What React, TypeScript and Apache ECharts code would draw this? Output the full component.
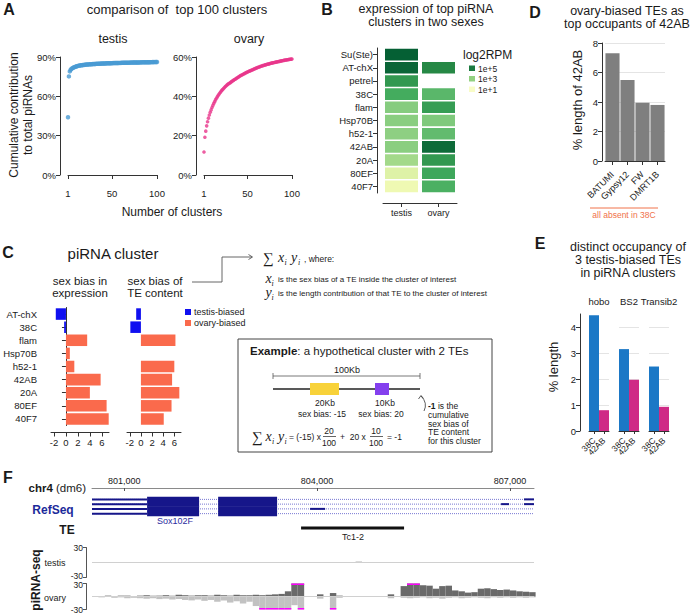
import React, { useEffect, useRef } from 'react';
import * as echarts from 'echarts';

const FONT = '"Liberation Sans", Arial, Helvetica, sans-serif';
const SERIF = '"Liberation Serif", "Times New Roman", serif';
const INK = '#1a1a1a';

// ---------- Panel A ----------
const clusterRank = Array.from({ length: 100 }, (_, i) => i + 1);
const testisCum = [
  44.0, 75.2, 79.0, 80.3, 81.0, 81.5, 81.9, 82.2, 82.5, 82.8,
  83.0, 83.2, 83.4, 83.5, 83.6, 83.7, 83.8, 83.9, 84.0, 84.1,
  84.2, 84.25, 84.3, 84.35, 84.4, 84.45, 84.5, 84.55, 84.6, 84.65,
  84.7, 84.74, 84.78, 84.82, 84.86, 84.9, 84.93, 84.96, 85.0, 85.03,
  85.06, 85.09, 85.12, 85.15, 85.18, 85.2, 85.23, 85.26, 85.28, 85.3,
  85.33, 85.35, 85.37, 85.4, 85.42, 85.44, 85.46, 85.48, 85.5, 85.52,
  85.54, 85.56, 85.58, 85.6, 85.62, 85.63, 85.65, 85.67, 85.69, 85.7,
  85.72, 85.74, 85.75, 85.77, 85.79, 85.8, 85.82, 85.83, 85.85, 85.86,
  85.88, 85.89, 85.91, 85.92, 85.94, 85.95, 85.97, 85.98, 86.0, 86.01,
  86.03, 86.04, 86.06, 86.07, 86.09, 86.1, 86.12, 86.13, 86.15, 86.16,
];
const ovaryCum = [
  11.7, 19.2, 22.3, 25.0, 27.1, 28.9, 30.5, 31.9, 33.1, 34.3,
  35.4, 36.4, 37.3, 38.2, 39.0, 39.8, 40.5, 41.2, 41.8, 42.4,
  43.0, 43.5, 44.0, 44.5, 45.0, 45.4, 45.8, 46.2, 46.5, 46.8,
  47.1, 47.5, 47.8, 48.1, 48.4, 48.7, 49.0, 49.3, 49.6, 49.9,
  50.2, 50.5, 50.7, 51.0, 51.2, 51.5, 51.7, 52.0, 52.2, 52.4,
  52.6, 52.8, 53.0, 53.2, 53.4, 53.6, 53.8, 54.0, 54.2, 54.4,
  54.6, 54.8, 54.9, 55.1, 55.3, 55.4, 55.6, 55.7, 55.9, 56.0,
  56.1, 56.3, 56.4, 56.5, 56.6, 56.8, 56.9, 57.0, 57.1, 57.2,
  57.3, 57.4, 57.5, 57.6, 57.7, 57.8, 57.9, 58.0, 58.1, 58.2,
  58.3, 58.4, 58.5, 58.55, 58.6, 58.7, 58.8, 58.85, 58.9, 59.0,
];
const rankTicks = [1, 50, 100];

// ---------- Panel B ----------
const heatClusters = ['Su(Ste)', 'AT-chX', 'petrel', '38C', 'flam', 'Hsp70B', 'h52-1', '42AB', '20A', '80EF', '40F7'];
const heatSexes = ['testis', 'ovary'];
const heatTestis = [5.3, 5.2, 4.3, 3.9, 3.0, 2.95, 2.9, 2.95, 2.6, 1.6, 1.2];
const heatOvary = [null, 4.6, null, 3.6, 4.2, 3.1, 3.5, 5.1, 4.3, 4.0, 3.8];
const heatLegend = ['1e+5', '1e+3', '1e+1'];

// ---------- Panel C ----------
const biasClusters = ['AT-chX', '38C', 'flam', 'Hsp70B', 'h52-1', '42AB', '20A', '80EF', '40F7'];
const exprBias = [-1.7, -0.3, 3.55, 0.65, 1.4, 5.8, 4.0, 6.8, 7.15];
const teBias = [-0.85, -1.9, 6.2, 0, 6.0, 5.6, 6.9, 5.5, 4.1];
const biasTicks = [-2, 0, 2, 4, 6];

// ---------- Panel D ----------
const dTEs = ['BATUMI', 'Gypsy12', 'FW', 'DMRT1B'];
const dLen = [7.3, 5.5, 3.95, 3.8];

// ---------- Panel E ----------
const eTEs = ['hobo', 'BS2', 'Transib2'];
const eClusters = ['38C', '42AB'];
const e38C = [4.45, 3.15, 2.48];
const e42AB = [0.8, 1.97, 0.93];

// ---------- Panel F ----------
const fTicks = [801000, 804000, 807000];
const fMin = 800500;
const fMax = 807375;
// [start, end, transcript row, kind] kind: 0 intron, 1 UTR, 2 CDS
const refseqParts = [
  [800500, 807375, 0, 0], [800500, 807375, 1, 0], [800500, 807375, 2, 0], [800500, 807375, 3, 0],
  [800500, 801357, 0, 1], [800500, 801357, 1, 1], [800500, 801357, 2, 1], [800500, 801357, 3, 1],
  [801357, 802166, 0, 2], [801357, 802166, 1, 2], [801357, 802166, 2, 2], [801357, 802166, 3, 2],
  [802462, 803379, 0, 2], [802462, 803379, 1, 2], [802462, 803379, 2, 2], [802462, 803379, 3, 2],
  [803892, 804126, 2, 1],
  [806863, 806987, 1, 1],
  [807220, 807375, 0, 1], [807220, 807375, 1, 1],
];
const teTc12 = [803752, 805354];
const binStart = 800500;
const binSize = 100;
const ovaryPos = [
  1, 1, 2, 1, 2, 2, 1, 2, 3, 2,
  2, 3, 2, 4, 3, 2, 3, 3, 2, 4,
  3, 2, 4, 3, 3, 4, 3, 4, 5, 6,
  12, 30, 30, 0, 0, 5, 1, 8, 2,
  0, 0, 1, 0, 1, 0, 0, 5, 0,
  24, 30, 30, 26, 25, 18, 24, 25, 14, 12, 9, 10, 18, 19, 17, 15, 16, 14, 12, 11, 10,
];
const ovaryNeg = [
  -1, -2, -1, -3, -2, -4, -3, -4, -5, -4,
  -6, -5, -7, -6, -8, -9, -7, -10, -8, -12,
  -9, -14, -11, -16, -12, -22, -30, -30, -30, -30,
  -30, -20, -30, 0, 0, -5, 0, -30, -3,
  0, 0, 0, 0, -1, 0, 0, -4, 0,
  -3, -4, -3, -2, -4, -3, -5, -3, -2, -4, -3, -2, -3, -4, -2, -3, -2, -3, -2, -3, -2,
];
const testisPos = [
  0, 0, 0, 0, 0, 0, 0, 0, 0, 0,
  0, 0, 0, 0, 0, 0, 0, 0, 0, 0,
  0, 0, 0, 0, 0, 0, 0, 0, 0, 0,
  0, 0, 0, 0, 0, 0, 0, 0, 0,
  0, 0, 1.5, 0, 0, 0, 0, 0, 0,
  0, 0, 0, 0, 0, 0, 0, 0, 0, 0, 0, 0, 0, 0, 0, 0, 0, 0, 0, 0, 0,
];
const testisNeg = testisPos.map(() => 0);

const BLUE_C = '#1010f0';
const RED_C = '#fa6a4c';
const BLUE_E = '#1b78c6';
const PINK_E = '#cf2a86';

const tx = (x: number, y: number, text: string, o: any = {}) => ({
  type: 'text',
  x,
  y,
  rotation: o.rot || 0,
  silent: true,
  style: {
    text,
    fill: o.color || INK,
    fontSize: o.size || 12,
    fontFamily: o.family || FONT,
    fontWeight: o.weight || 'normal',
    fontStyle: o.fstyle || 'normal',
    align: o.align || 'center',
    textAlign: o.align || 'center',
    verticalAlign: o.va || 'middle',
    textVerticalAlign: o.va || 'middle',
    lineHeight: o.lh,
    rich: o.rich,
  },
});
const ln = (x1: number, y1: number, x2: number, y2: number, stroke = '#444', lw = 1) => ({
  type: 'line',
  silent: true,
  shape: { x1, y1, x2, y2 },
  style: { stroke, lineWidth: lw },
});

const axisText = { color: INK, fontSize: 9.5, fontFamily: FONT };
const axLine = { show: true, lineStyle: { color: '#333', width: 1 } };
const axTick = { show: true, length: 4, lineStyle: { color: '#333' } };

function buildOption() {
  const grid = [
    { left: 68, top: 57, width: 89, height: 118 }, // 0 A testis
    { left: 204, top: 57, width: 88, height: 118 }, // 1 A ovary
    { left: 383, top: 48, width: 74, height: 145 }, // 2 B heat
    { left: 605, top: 43, width: 60, height: 118 }, // 3 D
    { left: 51, top: 307.5, width: 58, height: 118 }, // 4 C left
    { left: 127, top: 307.5, width: 54, height: 118 }, // 5 C right
    { left: 589, top: 314, width: 20, height: 117 }, // 6 E hobo
    { left: 619, top: 314, width: 20, height: 117 }, // 7 E BS2
    { left: 649, top: 314, width: 20, height: 117 }, // 8 E Transib2
    { left: 92, top: 497, width: 442, height: 19 }, // 9 F refseq
    { left: 92, top: 526, width: 442, height: 4 }, // 10 F TE
    { left: 92, top: 547.5, width: 442, height: 30 }, // 11 F testis
    { left: 92, top: 583.5, width: 442, height: 29.5 }, // 12 F ovary
  ];

  const hidden = { show: false };
  const xAxis: any[] = [];
  const yAxis: any[] = [];

  // A
  [0, 1].forEach((g) => {
    xAxis.push({
      gridIndex: g, type: 'value', min: 1, max: 100, offset: 8,
      axisLine: axLine, axisTick: { ...axTick, customValues: rankTicks },
      axisLabel: { ...axisText, customValues: rankTicks, margin: 5 }, splitLine: hidden,
    });
  });
  yAxis.push({
    gridIndex: 0, type: 'value', min: 0, max: 90, interval: 30, offset: 8,
    axisLine: axLine, axisTick: axTick, axisLabel: { ...axisText, formatter: '{value}%', margin: 4 }, splitLine: hidden,
  });
  yAxis.push({
    gridIndex: 1, type: 'value', min: 0, max: 60, interval: 20, offset: 8,
    axisLine: axLine, axisTick: axTick, axisLabel: { ...axisText, formatter: '{value}%', margin: 4 }, splitLine: hidden,
  });
  // B (axis 2)
  xAxis.push({
    gridIndex: 2, type: 'category', data: heatSexes, offset: 10,
    axisLine: axLine, axisTick: { ...axTick, alignWithLabel: true }, axisLabel: { ...axisText, fontSize: 9, margin: 5 },
  });
  yAxis.push({
    gridIndex: 2, type: 'category', data: heatClusters, inverse: true, offset: 6,
    axisLine: axLine, axisTick: { ...axTick, alignWithLabel: true }, axisLabel: { ...axisText, margin: 4 },
  });
  // D (axis 3)
  xAxis.push({
    gridIndex: 3, type: 'category', data: dTEs, offset: 8,
    axisLine: axLine, axisTick: { ...axTick, alignWithLabel: true },
    axisLabel: { ...axisText, fontSize: 9, rotate: 45, margin: 4, interval: 0 },
  });
  yAxis.push({
    gridIndex: 3, type: 'value', min: 0, max: 8, interval: 2, offset: 3,
    axisLine: axLine, axisTick: axTick, axisLabel: { ...axisText, margin: 4 },
    splitLine: { show: true, showMinLine: false, lineStyle: { color: '#e4e4e4', width: 1 } },
  });
  // C (axis 4, 5)
  [4, 5].forEach((g) => {
    xAxis.push({
      gridIndex: g, type: 'value', min: -2.5, max: 7.2, offset: 7,
      axisLine: axLine, axisTick: { ...axTick, customValues: biasTicks },
      axisLabel: { ...axisText, customValues: biasTicks, margin: 5 }, splitLine: hidden,
    });
  });
  yAxis.push({
    gridIndex: 4, type: 'category', data: biasClusters, inverse: true, offset: 10,
    axisLine: axLine, axisTick: { ...axTick, alignWithLabel: true }, axisLabel: { ...axisText, margin: 4 },
  });
  yAxis.push({
    gridIndex: 5, type: 'category', data: biasClusters, inverse: true,
    axisLine: hidden, axisTick: hidden, axisLabel: hidden,
  });
  // E (axis 6,7,8)
  [6, 7, 8].forEach((g, k) => {
    xAxis.push({
      gridIndex: g, type: 'category', data: eClusters, offset: 5,
      axisLine: axLine, axisTick: { ...axTick, length: 3, alignWithLabel: true },
      axisLabel: { ...axisText, fontSize: 8.5, rotate: 45, margin: 3, interval: 0 },
    });
    yAxis.push({
      gridIndex: g, type: 'value', min: 0, max: 4.5, interval: 1, offset: 9,
      axisLine: k === 0 ? axLine : hidden,
      axisTick: k === 0 ? { ...axTick, customValues: [0, 1, 2, 3, 4] } : hidden,
      axisLabel: k === 0 ? { ...axisText, customValues: [0, 1, 2, 3, 4], margin: 4 } : hidden,
      splitLine: { show: true, showMinLine: false, showMaxLine: false, lineStyle: { color: '#e4e4e4', width: 1 } },
    });
  });
  // F (axis 9..12)
  xAxis.push({
    gridIndex: 9, type: 'value', min: fMin, max: fMax, position: 'top', offset: 9,
    axisLine: { show: true, lineStyle: { color: '#8a8a8a', width: 1 } },
    axisTick: { show: true, length: 3, inside: true, customValues: fTicks, lineStyle: { color: '#555' } },
    axisLabel: { ...axisText, fontSize: 9, margin: 3, customValues: fTicks, formatter: (v: number) => v.toLocaleString('en-US') },
    splitLine: hidden,
  });
  yAxis.push({ gridIndex: 9, type: 'category', data: ['t1', 't2', 't3', 't4'], inverse: true, show: false });
  [10, 11, 12].forEach((g) => {
    xAxis.push({ gridIndex: g, type: 'value', min: fMin, max: fMax, show: false });
  });
  yAxis.push({ gridIndex: 10, type: 'category', data: ['TE'], show: false });
  [11, 12].forEach((g) => {
    yAxis.push({
      gridIndex: g, type: 'value', min: -30, max: 30, interval: 60, offset: 6,
      axisLine: { show: true, lineStyle: { color: '#555' } }, axisTick: { show: true, length: 3, lineStyle: { color: '#555' } },
      axisLabel: {
        ...axisText, fontSize: 8.5, margin: 3, lineHeight: 8.5,
        formatter: (v: number) => (g === 11 && v < 0 ? '{lo|' + v + '}' : g === 12 && v > 0 ? '{hi|' + v + '}' : String(v)),
        rich: {
          lo: { fontSize: 8.5, lineHeight: 8.5, padding: [0, 0, 3.5, 0], fontFamily: FONT, color: INK },
          hi: { fontSize: 8.5, lineHeight: 8.5, padding: [3.5, 0, 0, 0], fontFamily: FONT, color: INK },
        },
      },
      splitLine: hidden,
    });
  });

  const series: any[] = [];
  // A
  series.push({
    type: 'scatter', xAxisIndex: 0, yAxisIndex: 0, symbolSize: 4.5, itemStyle: { color: '#4a9bd3' },
    data: testisCum.map((v, i) => [clusterRank[i], v]),
  });
  series.push({
    type: 'scatter', xAxisIndex: 1, yAxisIndex: 1, symbolSize: 3.6, itemStyle: { color: '#e8368b' },
    data: ovaryCum.map((v, i) => [clusterRank[i], v]),
  });
  // B heatmap (custom to leave column gaps)
  const heatData: any[] = [];
  heatClusters.forEach((_, r) => {
    if (heatTestis[r] != null) heatData.push([0, r, heatTestis[r]]);
    if (heatOvary[r] != null) heatData.push([1, r, heatOvary[r]]);
  });
  const heatIndex = series.length;
  series.push({
    type: 'custom', xAxisIndex: 2, yAxisIndex: 2, encode: { x: 0, y: 1 }, data: heatData,
    renderItem: (params: any, api: any) => {
      const c = api.coord([api.value(0), api.value(1)]);
      const sz = api.size([1, 1]);
      const w = sz[0] - 4;
      const h = sz[1] - 1.6;
      return { type: 'rect', shape: { x: c[0] - w / 2, y: c[1] - h / 2, width: w, height: h }, style: { fill: api.visual('color') } };
    },
  });
  // D
  series.push({
    type: 'bar', xAxisIndex: 3, yAxisIndex: 3, data: dLen, barCategoryGap: '6%', itemStyle: { color: '#7f7f7f' },
  });
  // C
  series.push({
    type: 'bar', xAxisIndex: 4, yAxisIndex: 4, barCategoryGap: '12%', clip: false,
    data: exprBias.map((v) => ({ value: v, itemStyle: { color: v < 0 ? BLUE_C : RED_C } })),
  });
  series.push({
    type: 'bar', xAxisIndex: 5, yAxisIndex: 5, barCategoryGap: '12%', clip: false,
    data: teBias.map((v) => ({ value: v, itemStyle: { color: v < 0 ? BLUE_C : RED_C } })),
  });
  // E
  eTEs.forEach((_, k) => {
    series.push({
      type: 'bar', xAxisIndex: 6 + k, yAxisIndex: 6 + k, barCategoryGap: '0%',
      data: [
        { value: e38C[k], itemStyle: { color: BLUE_E } },
        { value: e42AB[k], itemStyle: { color: PINK_E } },
      ],
    });
  });
  // F refseq
  series.push({
    type: 'custom', xAxisIndex: 9, yAxisIndex: 9, encode: { x: [0, 1], y: 2 }, data: refseqParts,
    renderItem: (params: any, api: any) => {
      const s = api.value(0), e = api.value(1), r = api.value(2), k = api.value(3);
      const p0 = api.coord([s, r]);
      const p1 = api.coord([e, r]);
      const band = api.size([0, 1])[1];
      if (k === 0) {
        return { type: 'line', shape: { x1: p0[0], y1: p0[1], x2: p1[0], y2: p1[1] }, style: { stroke: '#5656c8', lineWidth: 0.8, lineDash: [1, 1] } };
      }
      const h = k === 2 ? band + 0.3 : 2;
      return { type: 'rect', shape: { x: p0[0], y: p0[1] - h / 2, width: p1[0] - p0[0], height: h }, style: { fill: '#16168a' } };
    },
  });
  // F TE
  series.push({
    type: 'custom', xAxisIndex: 10, yAxisIndex: 10, encode: { x: [0, 1], y: 2 }, data: [[teTc12[0], teTc12[1], 0]],
    renderItem: (params: any, api: any) => {
      const p0 = api.coord([api.value(0), 0]);
      const p1 = api.coord([api.value(1), 0]);
      return { type: 'rect', shape: { x: p0[0], y: p0[1] - 1.6, width: p1[0] - p0[0], height: 3.2 }, style: { fill: '#111' } };
    },
  });
  // F signal tracks
  const sigRender = (params: any, api: any) => {
    const s = api.value(0), e = api.value(1), pos = api.value(2), neg = api.value(3);
    const x0 = api.coord([s, 0])[0];
    const x1 = api.coord([e, 0])[0];
    const y0 = api.coord([s, 0])[1];
    const yp = api.coord([s, Math.min(pos, 30)])[1];
    const yn = api.coord([s, Math.max(neg, -30)])[1];
    const children: any[] = [];
    if (neg < 0) children.push({ type: 'rect', shape: { x: x0, y: y0, width: x1 - x0, height: yn - y0 }, style: { fill: '#c2c2c2' } });
    if (pos > 0) children.push({ type: 'rect', shape: { x: x0, y: yp, width: x1 - x0, height: y0 - yp }, style: { fill: '#6a6a6a' } });
    if (pos >= 30) children.push({ type: 'rect', shape: { x: x0, y: yp, width: x1 - x0, height: 1.5 }, style: { fill: '#ff00ff' } });
    if (neg <= -30) children.push({ type: 'rect', shape: { x: x0, y: yn - 1.5, width: x1 - x0, height: 1.5 }, style: { fill: '#ff00ff' } });
    return { type: 'group', children };
  };
  [[11, testisPos, testisNeg], [12, ovaryPos, ovaryNeg]].forEach(([g, P, N]: any) => {
    series.push({
      type: 'line', xAxisIndex: g, yAxisIndex: g, symbol: 'none', silent: true,
      lineStyle: { color: '#d0d0d0', width: 1 }, data: [[fMin, 0], [fMax, 0]],
    });
    series.push({
      type: 'custom', xAxisIndex: g, yAxisIndex: g, encode: { x: [0, 1], y: [2, 3] },
      data: P.map((v: number, i: number) => [binStart + i * binSize, binStart + (i + 1) * binSize, v, N[i]]),
      renderItem: sigRender,
    });
  });

  const graphic: any[] = [];
  // Panel letters
  graphic.push(tx(9, 9, 'A', { size: 16, weight: 'bold' }));
  graphic.push(tx(327, 9, 'B', { size: 16, weight: 'bold' }));
  graphic.push(tx(535, 12, 'D', { size: 16, weight: 'bold' }));
  graphic.push(tx(8, 252, 'C', { size: 16, weight: 'bold' }));
  graphic.push(tx(540, 243, 'E', { size: 16, weight: 'bold' }));
  graphic.push(tx(8, 477, 'F', { size: 16, weight: 'bold' }));
  // A
  graphic.push(tx(177, 9, 'comparison of  top 100 clusters', { size: 13 }));
  graphic.push(tx(113, 39, 'testis', { size: 12.5 }));
  graphic.push(tx(249, 39, 'ovary', { size: 12.5 }));
  graphic.push(tx(172, 212, 'Number of clusters', { size: 12 }));
  graphic.push(tx(14, 115, 'Cumulative contribution', { size: 12, rot: Math.PI / 2 }));
  graphic.push(tx(28, 115, 'to total piRNAs', { size: 12, rot: Math.PI / 2 }));
  // B
  graphic.push(tx(426, 8.5, 'expression of top piRNA', { size: 12.5, lh: 13 }));
  graphic.push(tx(426, 22, 'clusters in two sexes', { size: 12.5, lh: 13 }));
  graphic.push(tx(463, 55, 'log2RPM', { size: 12, align: 'left' }));
  heatLegend.forEach((lab, i) => {
    const col = i === 0 ? '#1b7a3f' : i === 1 ? '#92d080' : '#f8fcc6';
    graphic.push({ type: 'rect', silent: true, shape: { x: 469, y: 65.5 + i * 10.5, width: 6, height: 5.5 }, style: { fill: col } });
    graphic.push(tx(478, 68.5 + i * 10.5, lab, { size: 8.5, align: 'left' }));
  });
  // D
  graphic.push(tx(627, 11, 'ovary-biased TEs as', { size: 12.5 }));
  graphic.push(tx(627, 24, 'top occupants of 42AB', { size: 12.5 }));
  graphic.push(tx(577, 100, '% length of 42AB', { size: 13, rot: Math.PI / 2 }));
  graphic.push(ln(590, 208, 658, 208, '#f0724a', 1));
  graphic.push(tx(624, 215, 'all absent in 38C', { size: 8.5, color: '#f0724a' }));
  // C
  graphic.push(tx(113, 253, 'piRNA cluster', { size: 15 }));
  graphic.push(tx(80, 281, 'sex bias in', { size: 11.5 }));
  graphic.push(tx(80, 293, 'expression', { size: 11.5 }));
  graphic.push(tx(155, 281, 'sex bias of', { size: 11.5 }));
  graphic.push(tx(155, 293, 'TE content', { size: 11.5 }));
  graphic.push({ type: 'rect', silent: true, shape: { x: 185, y: 309, width: 6, height: 6 }, style: { fill: BLUE_C } });
  graphic.push({ type: 'rect', silent: true, shape: { x: 185, y: 320, width: 6, height: 6 }, style: { fill: RED_C } });
  graphic.push(tx(194, 312, 'testis-biased', { size: 9, align: 'left' }));
  graphic.push(tx(194, 323, 'ovary-biased', { size: 9, align: 'left' }));
  graphic.push({ type: 'polyline', silent: true, shape: { points: [[192, 282], [222, 282], [222, 257], [252, 257]] }, style: { stroke: '#555', lineWidth: 0.9, fill: null } });
  graphic.push({ type: 'polyline', silent: true, shape: { points: [[248.5, 254.5], [252.5, 257], [248.5, 259.5]] }, style: { stroke: '#555', lineWidth: 0.9, fill: null } });
  // formula
  graphic.push(tx(268, 258, '∑', { size: 15, family: SERIF }));
  graphic.push(tx(281, 257, 'x', { size: 14, family: SERIF, fstyle: 'italic' }));
  graphic.push(tx(285.5, 262, 'i', { size: 8, family: SERIF, fstyle: 'italic' }));
  graphic.push(tx(294, 257, 'y', { size: 14, family: SERIF, fstyle: 'italic' }));
  graphic.push(tx(299, 262, 'i', { size: 8, family: SERIF, fstyle: 'italic' }));
  graphic.push(tx(304, 259, ', where:', { size: 8.5, align: 'left' }));
  graphic.push(tx(268.5, 278, 'x', { size: 14, family: SERIF, fstyle: 'italic' }));
  graphic.push(tx(272.5, 283, 'i', { size: 8, family: SERIF, fstyle: 'italic' }));
  graphic.push(tx(278, 279, 'is the sex bias of a TE inside the cluster of interest', { size: 8, align: 'left' }));
  graphic.push(tx(268.5, 292, 'y', { size: 14, family: SERIF, fstyle: 'italic' }));
  graphic.push(tx(272.5, 297, 'i', { size: 8, family: SERIF, fstyle: 'italic' }));
  graphic.push(tx(278, 293, 'is the length contribution of that TE to the cluster of interest', { size: 8, align: 'left' }));
  // Example box
  graphic.push({ type: 'rect', silent: true, shape: { x: 238, y: 339, width: 254, height: 113 }, style: { fill: null, stroke: '#444', lineWidth: 1 } });
  graphic.push(tx(250, 351, '{b|Example}: a hypothetical cluster with 2 TEs', {
    size: 11.5, align: 'left', rich: { b: { fontWeight: 'bold', fontSize: 11.5, fontFamily: FONT, fill: INK, color: INK } },
  }));
  graphic.push(tx(347, 370, '100Kb', { size: 9 }));
  graphic.push(ln(273, 376, 420, 376, '#555', 0.8));
  graphic.push(ln(273, 373, 273, 379, '#555', 0.8));
  graphic.push(ln(420, 373, 420, 379, '#555', 0.8));
  graphic.push(ln(273, 389, 420, 389, '#222', 1.4));
  graphic.push({ type: 'rect', silent: true, shape: { x: 310, y: 383, width: 29, height: 12 }, style: { fill: '#f8d23a' } });
  graphic.push({ type: 'rect', silent: true, shape: { x: 375, y: 383, width: 14, height: 12 }, style: { fill: '#8440ee' } });
  graphic.push(tx(325, 403, '20Kb', { size: 8.5 }));
  graphic.push(tx(322, 414, 'sex bias: -15', { size: 8.5 }));
  graphic.push(tx(385, 403, '10Kb', { size: 8.5 }));
  graphic.push(tx(381, 414, 'sex bias: 20', { size: 8.5 }));
  graphic.push({ type: 'bezierCurve', silent: true, shape: { x1: 424, y1: 411, x2: 421, y2: 396, cpx1: 428, cpy1: 403 }, style: { stroke: '#333', lineWidth: 0.8, fill: null } });
  graphic.push({ type: 'polyline', silent: true, shape: { points: [[418.5, 399], [421, 395.5], [423.5, 398.5]] }, style: { stroke: '#333', lineWidth: 0.8, fill: null } });
  const noteLines = ['{b|-1} is the', 'cumulative', 'sex bias of', 'TE content', 'for this cluster'];
  noteLines.forEach((t, i) => {
    graphic.push(tx(428, 406 + i * 8.8, t, {
      size: 8.5, align: 'left', rich: { b: { fontWeight: 'bold', fontSize: 8.5, fontFamily: FONT, fill: INK, color: INK } },
    }));
  });
  graphic.push(tx(257, 437, '∑', { size: 15, family: SERIF }));
  graphic.push(tx(268.5, 436, 'x', { size: 14, family: SERIF, fstyle: 'italic' }));
  graphic.push(tx(273, 441, 'i', { size: 8, family: SERIF, fstyle: 'italic' }));
  graphic.push(tx(281, 436, 'y', { size: 14, family: SERIF, fstyle: 'italic' }));
  graphic.push(tx(285.5, 441, 'i', { size: 8, family: SERIF, fstyle: 'italic' }));
  graphic.push(tx(289, 437, '= (-15) x', { size: 8.5, align: 'left' }));
  graphic.push(tx(329, 431, '20', { size: 8.5 }));
  graphic.push(ln(323, 436.5, 336, 436.5, '#222', 0.7));
  graphic.push(tx(329, 442.5, '100', { size: 8.5 }));
  graphic.push(tx(340, 437, '+  20 x', { size: 8.5, align: 'left' }));
  graphic.push(tx(376, 431, '10', { size: 8.5 }));
  graphic.push(ln(370, 436.5, 383, 436.5, '#222', 0.7));
  graphic.push(tx(376, 442.5, '100', { size: 8.5 }));
  graphic.push(tx(387, 437, '= -1', { size: 8.5, align: 'left' }));
  // E
  graphic.push(tx(628, 247, 'distinct occupancy of', { size: 12.5 }));
  graphic.push(tx(628, 260, '3 testis-biased TEs', { size: 12.5 }));
  graphic.push(tx(628, 273, 'in piRNA clusters', { size: 12.5 }));
  graphic.push(tx(553, 367, '% length', { size: 13, rot: Math.PI / 2 }));
  eTEs.forEach((name, k) => {
    graphic.push(tx(599 + k * 30, 301, name, { size: 9.5 }));
  });
  // F
  graphic.push(tx(86, 488, '{b|chr4} (dm6)', {
    size: 11.5, align: 'right', rich: { b: { fontWeight: 'bold', fontSize: 11.5, fontFamily: FONT, fill: INK, color: INK } },
  }));
  graphic.push(tx(53, 510, 'RefSeq', { size: 12, weight: 'bold', color: '#1c2a9a' }));
  graphic.push(tx(175, 521, 'Sox102F', { size: 9, color: '#2b2ba0' }));
  graphic.push(tx(67, 530, 'TE', { size: 12, weight: 'bold' }));
  graphic.push(tx(353, 537, 'Tc1-2', { size: 9 }));
  graphic.push(tx(36, 580, 'piRNA-seq', { size: 12, weight: 'bold', rot: Math.PI / 2 }));
  graphic.push(tx(55, 563, 'testis', { size: 9 }));
  graphic.push(tx(55, 598, 'ovary', { size: 9 }));

  return {
    animation: false,
    backgroundColor: '#ffffff',
    textStyle: { fontFamily: FONT },
    grid,
    xAxis,
    yAxis,
    visualMap: {
      type: 'continuous', show: false, seriesIndex: heatIndex, dimension: 2, min: 1, max: 5.4,
      inRange: { color: ['#f7fcb9', '#d9f0a3', '#addd8e', '#78c679', '#41ab5d', '#238443', '#005a32'] },
    },
    series,
    graphic: { elements: graphic },
  };
}

export default function App() {
  const ref = useRef<HTMLDivElement>(null);
  useEffect(() => {
    const chart = echarts.init(ref.current as HTMLDivElement, null, { renderer: 'svg' });
    chart.setOption(buildOption() as any);
    return () => chart.dispose();
  }, []);
  return <div ref={ref} style={{ position: 'absolute', left: 0, top: 0, width: 691, height: 614, background: '#fff' }} />;
}
